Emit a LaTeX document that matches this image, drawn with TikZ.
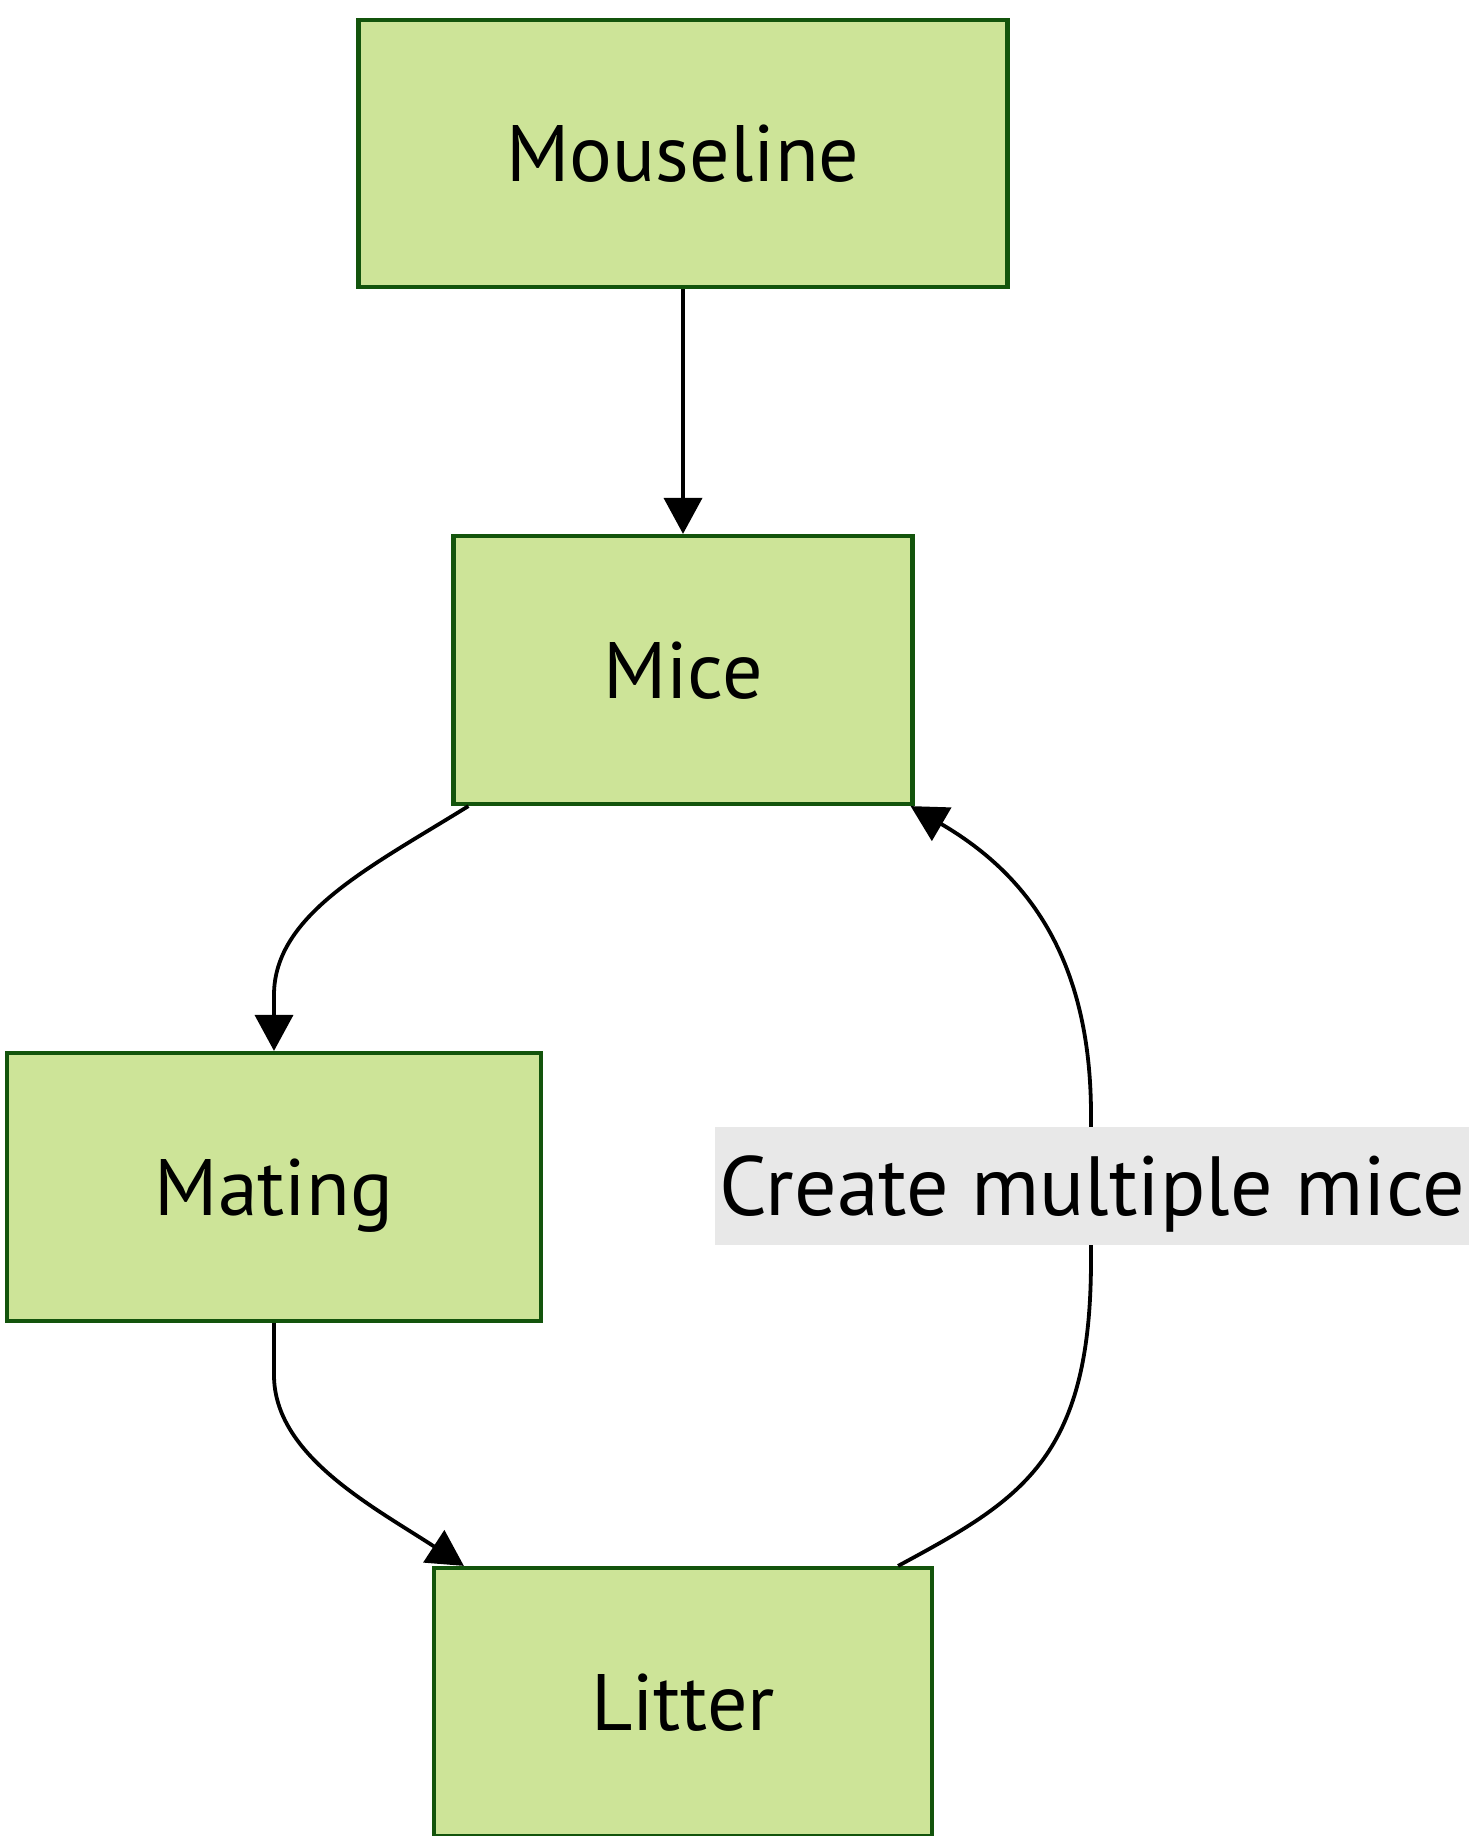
\documentclass[tikz,border=0pt]{standalone}
\usepackage{fontspec}
\setmainfont{PT Sans}
\usetikzlibrary{arrows.meta,calc}
\definecolor{boxfill}{HTML}{CDE498}
\definecolor{boxline}{HTML}{13540C}
\definecolor{lblfill}{HTML}{E8E8E8}
\begin{document}
\begin{tikzpicture}[x=0.5pt,y=-0.5pt,
  box/.style={draw=boxline,fill=boxfill,line width=2.1pt,inner sep=0pt,
    text height=28pt,text depth=0pt,font=\fontsize{40}{48}\selectfont},
  edge/.style={draw=black,line width=1.9pt,-{Triangle[length=18pt,width=19pt]}},
  lbl/.style={fill=lblfill,inner sep=0pt,minimum width=377pt,minimum height=59pt,
    text height=29pt,text depth=0pt,font=\fontsize{42}{50}\selectfont}]
\useasboundingbox (0,0) rectangle (1480,1836);
\node[box,minimum width=324.5pt,minimum height=133.5pt] (mouse) at (683,153.5) {Mouseline};
\node[box,minimum width=229.5pt,minimum height=134pt] (mice) at (683,670) {Mice};
\node[box,minimum width=267pt,minimum height=134pt] (mating) at (274,1187) {Mating};
\node[box,minimum width=249pt,minimum height=134pt] (litter) at (683,1702) {Litter};
% edges
\draw[edge] (mouse.south) -- (mice.north);
\draw[edge] ([xshift=8.5pt]mice.south west) .. controls (372,866) and (274,914) .. (274,995) -- (mating.north);
\draw[edge] (mating.south) -- (274,1375) .. controls (274,1455) and (372,1506) .. ([xshift=16pt]litter.north west);
\coordinate (c1) at (1091,1260);
\coordinate (c2) at (1091,1115);
\draw[edge] ([xshift=-18pt]litter.north east) .. controls (1020,1500) and (1091,1460) .. (c1) -- (c2)
  .. controls (1091,950) and (1020,870) .. ([xshift=-2pt]mice.south east);
\node[lbl] (label) at (1092,1186) {Create multiple mice};
\end{tikzpicture}
\end{document}
